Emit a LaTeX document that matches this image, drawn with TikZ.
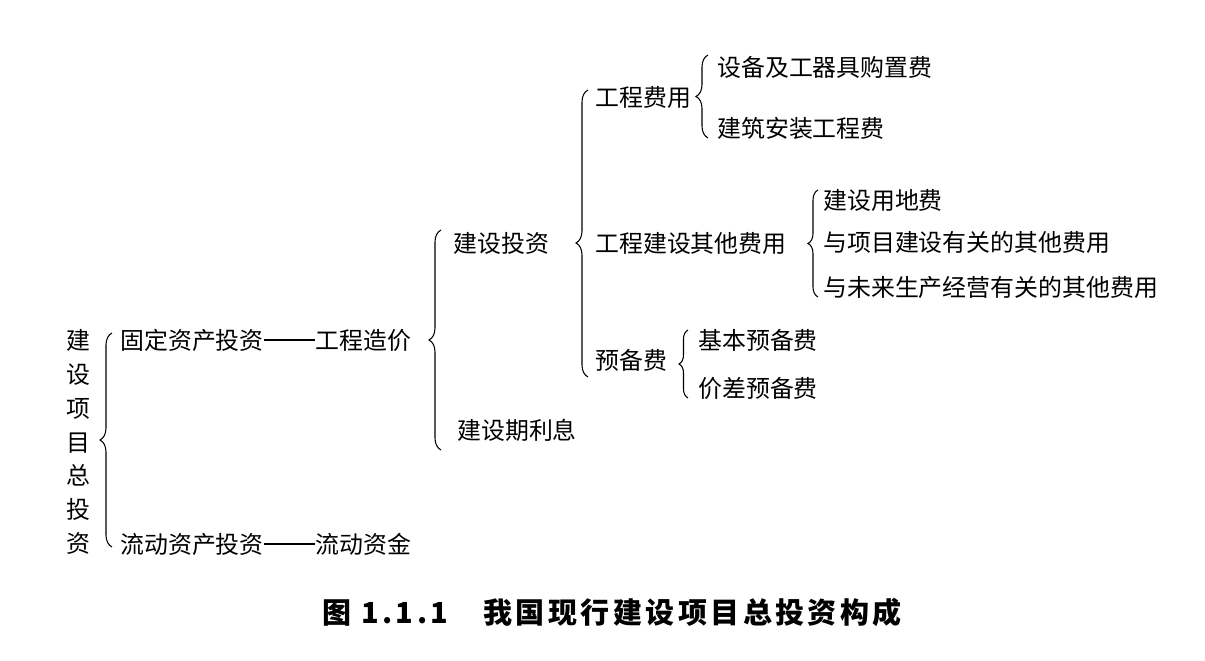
\documentclass[tikz,border=0pt]{standalone}
\usepackage{fontspec}
\newfontfamily\cjk{Noto Sans CJK SC}
\usepackage{tikz}
\usetikzlibrary{decorations.pathreplacing}

\begin{document}
\begin{tikzpicture}[
  item/.style={anchor=west,inner sep=0pt,font=\cjk\fontsize{13.6}{16}\selectfont},
  brc/.style={decorate,decoration={brace,amplitude=0.24cm},line width=0.6pt}
]
\useasboundingbox (0,0) rectangle (24.1,13.22);
% Root label, one character per line
\node[item,anchor=center,align=center,font=\cjk\fontsize{13.6}{19.3}\selectfont] (total) at (1.56,4.38) {建\\设\\项\\目\\总\\投\\资};
% First level
\node[item] (fixed) at (2.40,6.42) {固定资产投资};
\node[item] (cost) at (6.30,6.42) {工程造价};
\node[item] (flow) at (2.40,2.34) {流动资产投资};
\node[item] (fund) at (6.30,2.34) {流动资金};
\draw[line width=0.6pt] (fixed.east) -- (cost.west);
\draw[line width=0.6pt] (flow.east) -- (fund.west);
% Second level
\node[item] (build) at (9.06,8.36) {建设投资};
\node[item] (interest) at (9.14,4.62) {建设期利息};
% Third level
\node[item] (works) at (11.90,11.28) {工程费用};
\node[item] (other) at (11.90,8.36) {工程建设其他费用};
\node[item] (reserve) at (11.90,6.02) {预备费};
% Leaves
\node[item] (equip) at (14.34,11.88) {设备及工器具购置费};
\node[item] (install) at (14.34,10.66) {建筑安装工程费};
\node[item] (land) at (16.46,9.22) {建设用地费};
\node[item] (project) at (16.46,8.38) {与项目建设有关的其他费用};
\node[item] (future) at (16.46,7.48) {与未来生产经营有关的其他费用};
\node[item] (basic) at (13.96,6.42) {基本预备费};
\node[item] (price) at (13.96,5.46) {价差预备费};
% Braces
\coordinate (b1a) at (2.24,2.28);
\coordinate (b1b) at (2.24,6.56);
\coordinate (b2a) at (8.82,4.22);
\coordinate (b2b) at (8.82,8.62);
\coordinate (b3a) at (11.76,5.68);
\coordinate (b3b) at (11.76,11.42);
\coordinate (b4a) at (14.16,10.46);
\coordinate (b4b) at (14.16,12.12);
\coordinate (b5a) at (16.36,7.28);
\coordinate (b5b) at (16.36,9.42);
\coordinate (b6a) at (13.76,5.26);
\coordinate (b6b) at (13.76,6.62);
\draw[brc] (b1a) -- (b1b);
\draw[brc] (b2a) -- (b2b);
\draw[brc,decoration={aspect=0.467}] (b3a) -- (b3b);
\draw[brc] (b4a) -- (b4b);
\draw[brc,decoration={amplitude=0.2cm}] (b5a) -- (b5b);
\draw[brc,decoration={amplitude=0.18cm}] (b6a) -- (b6b);
% Caption
\node[font=\cjk\bfseries\fontsize{16.5}{20}\selectfont\addfontfeature{LetterSpace=12}] (cap) at (12.24,0.98) {图 1.1.1\hspace{1.2em}我国现行建设项目总投资构成};
\end{tikzpicture}
\end{document}
